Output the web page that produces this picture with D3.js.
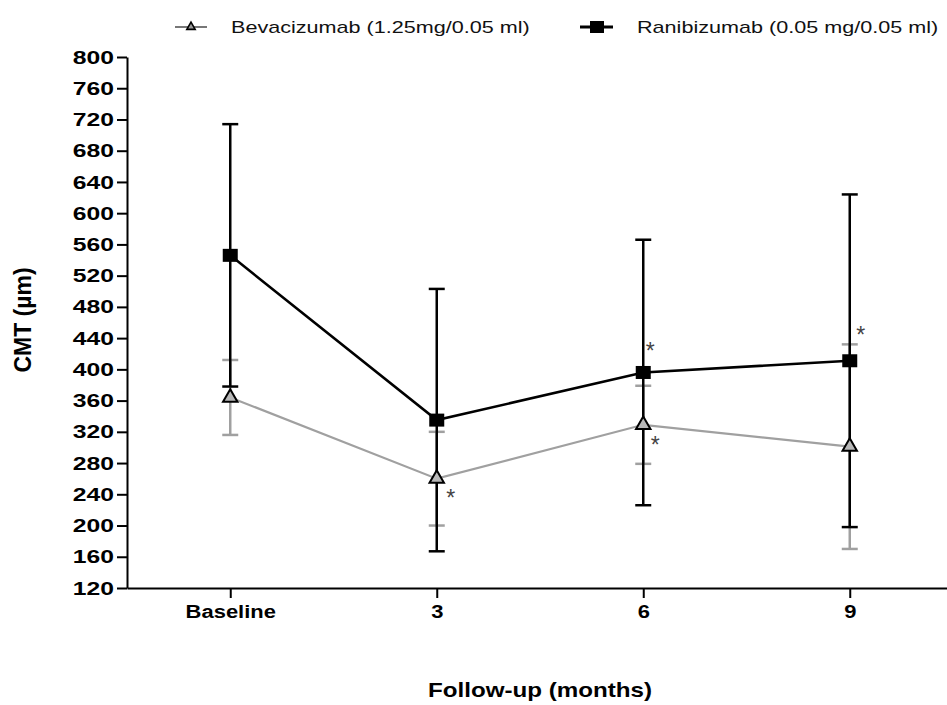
<!DOCTYPE html>
<html>
<head>
<meta charset="utf-8">
<script src="https://cdn.jsdelivr.net/npm/d3@7"></script>
<style>
  body { margin: 0; background: #fff; }
  svg { display: block; }
  text { font-family: "Liberation Sans", Arial, sans-serif; }
</style>
</head>
<body>
<div id="chart"></div>
<script>
const categories = ["Baseline", "3", "6", "9"];
const bevacizumabMean = [364, 260, 329, 301];
const bevacizumabSD = [48, 60, 50, 131];
const ranibizumabMean = [546, 335, 396, 411];
const ranibizumabSD = [168, 168, 170, 213];
const yTicks = [120, 160, 200, 240, 280, 320, 360, 400, 440, 480, 520, 560, 600, 640, 680, 720, 760, 800];
// significance marks: category, value where the * sits
const asteriskCats = ["3", "6", "6", "9"];
const asteriskValues = [243, 310, 431, 451];

const legendLabels = ["Bevacizumab (1.25mg/0.05 ml)", "Ranibizumab (0.05 mg/0.05 ml)"];

const width = 947;
const height = 705;
const bevColor = "#a0a0a0";
const raniColor = "#000";

// text in the original is stretched sideways
function stretch(sel, k) {
  sel.each(function () {
    const w = this.getComputedTextLength();
    d3.select(this).attr("textLength", w * k).attr("lengthAdjust", "spacingAndGlyphs");
  });
}

const svg = d3
  .select("#chart")
  .append("svg")
  .attr("width", width)
  .attr("height", height);

const x = d3.scalePoint().domain(categories).range([127, 953]).padding(0.5);
const y = d3.scaleLinear().domain([120, 800]).range([588, 57]);

// axes
const yAxis = svg
  .append("g")
  .attr("transform", "translate(127,0)")
  .call(d3.axisLeft(y).tickValues(yTicks).tickSize(10).tickSizeOuter(0).tickPadding(3));
yAxis.select(".domain").attr("stroke-width", 2);
yAxis.selectAll(".tick line").attr("stroke-width", 2);
yAxis.selectAll(".tick text").attr("font-size", 19).attr("font-weight", "bold").attr("fill", "#000");
stretch(yAxis.selectAll(".tick text"), 1.3);

const xAxis = svg
  .append("g")
  .attr("transform", "translate(0,588)")
  .call(d3.axisBottom(x).tickSize(10).tickSizeOuter(0).tickPadding(7));
xAxis.select(".domain").attr("stroke-width", 2);
xAxis.selectAll(".tick line").attr("stroke-width", 2);
xAxis.selectAll(".tick text").attr("font-size", 18).attr("font-weight", "bold").attr("fill", "#000");
stretch(xAxis.selectAll(".tick text"), 1.22);

// axis titles
const xTitle = svg
  .append("text")
  .attr("x", 540)
  .attr("y", 697)
  .attr("text-anchor", "middle")
  .attr("font-size", 21)
  .attr("font-weight", "bold")
  .text("Follow-up (months)");
stretch(xTitle, 1.15);

svg
  .append("text")
  .attr("transform", "translate(31,320) rotate(-90)")
  .attr("text-anchor", "middle")
  .attr("font-size", 23)
  .attr("font-weight", "bold")
  .text("CMT (µm)");

// error bars
function errorBars(means, sds, color) {
  const g = svg.append("g").attr("stroke", color).attr("stroke-width", 2.5);
  categories.forEach((c, i) => {
    const cx = x(c);
    const hi = y(means[i] + sds[i]);
    const lo = y(means[i] - sds[i]);
    g.append("line").attr("x1", cx).attr("x2", cx).attr("y1", hi).attr("y2", lo);
    g.append("line").attr("x1", cx - 8).attr("x2", cx + 8).attr("y1", hi).attr("y2", hi);
    g.append("line").attr("x1", cx - 8).attr("x2", cx + 8).attr("y1", lo).attr("y2", lo);
  });
}
errorBars(bevacizumabMean, bevacizumabSD, bevColor);
errorBars(ranibizumabMean, ranibizumabSD, raniColor);

const line = d3
  .line()
  .x((_, i) => x(categories[i]))
  .y((d) => y(d));

svg
  .append("path")
  .datum(bevacizumabMean)
  .attr("fill", "none")
  .attr("stroke", bevColor)
  .attr("stroke-width", 2.2)
  .attr("d", line);

svg
  .append("path")
  .datum(ranibizumabMean)
  .attr("fill", "none")
  .attr("stroke", raniColor)
  .attr("stroke-width", 2.6)
  .attr("d", line);

// markers
svg
  .append("g")
  .selectAll("path")
  .data(bevacizumabMean)
  .join("path")
  .attr("transform", (d, i) => `translate(${x(categories[i])},${y(d)})`)
  .attr("d", d3.symbol(d3.symbolTriangle).size(90))
  .attr("fill", "#b8b8b8")
  .attr("stroke", "#000")
  .attr("stroke-width", 2);

svg
  .append("g")
  .selectAll("rect")
  .data(ranibizumabMean)
  .join("rect")
  .attr("x", (d, i) => x(categories[i]) - 7.5)
  .attr("y", (d) => y(d) - 6.5)
  .attr("width", 15)
  .attr("height", 13)
  .attr("fill", "#000");

// asterisks
svg
  .append("g")
  .selectAll("text")
  .data(asteriskValues)
  .join("text")
  .attr("x", (d, i) => x(asteriskCats[i]) + [14, 12, 7, 11][i])
  .attr("y", (d) => y(d))
  .attr("dy", "0.6em")
  .attr("text-anchor", "middle")
  .attr("font-size", 23)
  .attr("fill", "#444")
  .text("*");

// legend
const legend = svg.append("g");
legend
  .append("line")
  .attr("x1", 175).attr("x2", 207).attr("y1", 27).attr("y2", 27)
  .attr("stroke", "#777").attr("stroke-width", 2);
legend
  .append("path")
  .attr("transform", "translate(191,27)")
  .attr("d", d3.symbol(d3.symbolTriangle).size(30))
  .attr("fill", "#999")
  .attr("stroke", "#000")
  .attr("stroke-width", 1.6);
legend
  .append("line")
  .attr("x1", 580).attr("x2", 613).attr("y1", 27).attr("y2", 27)
  .attr("stroke", "#000").attr("stroke-width", 3);
legend
  .append("rect")
  .attr("x", 590).attr("y", 21).attr("width", 14).attr("height", 12)
  .attr("fill", "#000");

const legendText = legend
  .selectAll("text")
  .data(legendLabels)
  .join("text")
  .attr("x", (d, i) => [231, 637][i])
  .attr("y", 33)
  .attr("font-size", 17)
  .attr("fill", "#111")
  .text((d) => d);
stretch(legendText, 1.27);
</script>
</body>
</html>
